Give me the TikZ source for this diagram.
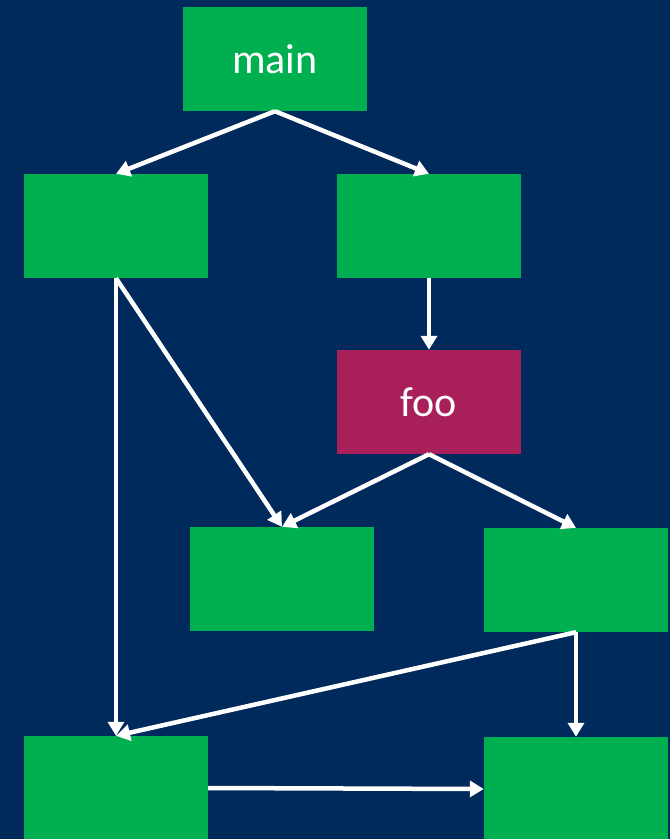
\documentclass[tikz,border=0pt]{standalone}
\usepackage{fontspec}
\setmainfont{Carlito}
\usetikzlibrary{arrows.meta}
\definecolor{navy}{HTML}{002A5C}
\definecolor{boxgreen}{HTML}{00B050}
\definecolor{boxred}{HTML}{A91F5A}
\begin{document}
\begin{tikzpicture}[x=1pt,y=-1pt,
  fn/.style={fill=boxgreen,draw=none,minimum width=184pt,minimum height=104pt,inner sep=0pt,
    text=white,font=\fontsize{42}{44}\selectfont},
  hot/.style={fn,fill=boxred},
  call/.style={draw=white,line width=4.5pt,-{Triangle[length=14pt,width=16pt]}}]
\fill[navy] (0,0) rectangle (670,839);
\useasboundingbox (0,0) rectangle (670,839);
\node[fn]  (main) at (275,59)  {main};
\node[fn]  (a)    at (116,226) {};
\node[fn]  (b)    at (429,226) {};
\node[hot] (foo)  at (429,402) {foo};
\node[fn]  (c)    at (282,579) {};
\node[fn]  (d)    at (576,580) {};
\node[fn]  (e)    at (116,788) {};
\node[fn]  (f)    at (576,789) {};
\draw[call] (main.south) -- (a.north);
\draw[call] (main.south) -- (b.north);
\draw[call] (b.south) -- (foo.north);
\draw[call] (a.south) -- (c.north);
\draw[call] (a.south) -- (e.north);
\draw[call] (foo.south) -- (c.north);
\draw[call] (foo.south) -- (d.north);
\draw[call] (d.south) -- (e.north);
\draw[call] (d.south) -- (f.north);
\draw[call] (e.east) -- (f.west);
\end{tikzpicture}
\end{document}
